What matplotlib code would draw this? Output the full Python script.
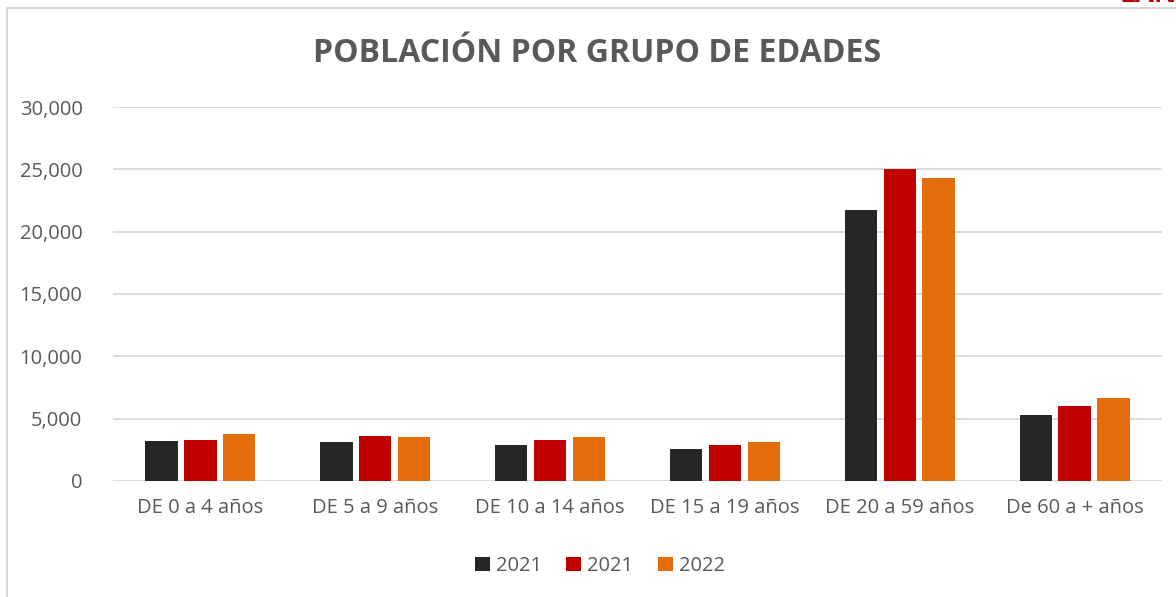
import numpy as np
import matplotlib.pyplot as plt
from matplotlib.patches import Rectangle

plt.rcParams['font.family'] = ['Open Sans', 'DejaVu Sans']

categories = ['DE 0 a 4 años', 'DE 5 a 9 años', 'DE 10 a 14 años',
              'DE 15 a 19 años', 'DE 20 a 59 años', 'De 60 a + años']
series_names = ['2021', '2021', '2022']
vals_2021a = [3170, 3090, 2870, 2550, 21750, 5270]
vals_2021b = [3300, 3590, 3270, 2900, 25000, 6050]
vals_2022 = [3810, 3540, 3490, 3090, 24310, 6640]
colors = ['#262626', '#C00000', '#E46C0A']
yticks = [0, 5000, 10000, 15000, 20000, 25000, 30000]

text_col = '#595959'
grid_col = '#D9D9D9'

fig = plt.figure(figsize=(11.76, 5.97), dpi=100)
ax = fig.add_axes([113/1176, 1 - 481/597, (1162 - 113)/1176, (481 - 107)/597])

x = np.arange(len(categories))
w = 0.185
step = 0.222
for i, (vals, name) in enumerate(zip([vals_2021a, vals_2021b, vals_2022], series_names)):
    ax.bar(x + (i - 1) * step, vals, width=w, color=colors[i], label=name, zorder=3)

ax.set_xlim(-0.5, len(categories) - 0.5)
ax.set_ylim(0, 30000)
ax.set_yticks(yticks)
ax.set_yticklabels([f'{v:,}' for v in yticks])
ax.set_xticks(x)
ax.set_xticklabels(categories)
ax.tick_params(axis='both', length=0, labelsize=14.5, colors=text_col)
ax.tick_params(axis='y', pad=22)
ax.tick_params(axis='x', pad=12)
ax.grid(axis='y', color=grid_col, linewidth=1.3, zorder=0)
for s in ax.spines.values():
    s.set_visible(False)

fig.text(0.508, 1 - 53/597, 'POBLACIÓN POR GRUPO DE EDADES', ha='center', va='center',
         fontsize=23, fontweight='bold', color=text_col)

leg = fig.legend(loc='center', bbox_to_anchor=(0.51, 1 - 566/597), ncol=3, frameon=False,
                 fontsize=14.5, handlelength=0.75, handleheight=0.75, handletextpad=0.3,
                 columnspacing=1.2)
for t in leg.get_texts():
    t.set_color(text_col)

# chart frame
fig.patches.append(Rectangle((7/1176, -0.1), 1.2, 1.1 - 8/597, transform=fig.transFigure,
                             fill=False, edgecolor='#D0D0D0', linewidth=1.2))
# logo text cut off at the top edge, as in the source image
fig.text(1120/1176, 1 - 9/597, 'LAN', ha='left', va='bottom', fontsize=20,
         fontweight='bold', color='#C00000')

fig.savefig('out.png', dpi=100)
